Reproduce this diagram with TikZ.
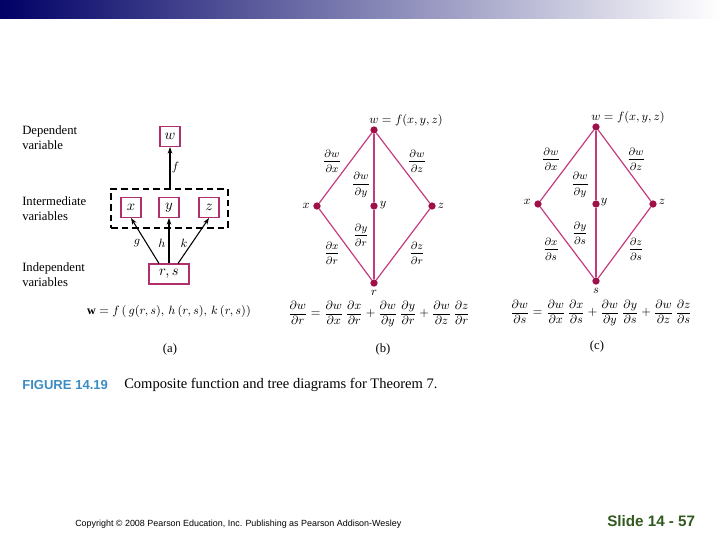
\documentclass[tikz,border=0pt]{standalone}
\usepackage{fontspec}
\setmainfont{Liberation Serif}
\setsansfont{Liberation Sans}
\usetikzlibrary{arrows.meta,calc}
\definecolor{navy}{RGB}{0,0,102}
\definecolor{midgrey}{RGB}{170,170,188}
\definecolor{boxpink}{RGB}{176,48,110}
\definecolor{linepink}{RGB}{196,60,128}
\definecolor{dotred}{RGB}{160,16,72}
\definecolor{figblue}{RGB}{60,140,196}
\definecolor{slidegreen}{RGB}{50,90,30}
\tikzset{
  vbox/.style={draw=boxpink, line width=0.8pt, fill=white, minimum width=15pt, minimum height=15pt, inner sep=0pt, font=\fontsize{10.5}{11}\selectfont},
  sidetext/.style={anchor=west, align=left, inner sep=0pt, font=\fontsize{9.5}{11.25}\selectfont},
  arr/.style={-{Stealth[length=5pt,width=3.5pt]}, line width=0.8pt},
  dotnode/.style={circle, fill=dotred, minimum size=5.5pt, inner sep=0pt},
  tree/.style={draw=linepink, line width=0.9pt},
  frl/.style={inner sep=0pt, font=\fontsize{8}{9}\selectfont},
  vlab/.style={inner sep=0pt, font=\fontsize{9.5}{11}\selectfont},
  eqn/.style={inner sep=0pt, font=\fontsize{9}{11}\selectfont},
}
\newcommand{\pd}[2]{\displaystyle\frac{\partial #1}{\partial #2}}
\begin{document}
\begin{tikzpicture}[x=0.75pt,y=-0.75pt]
\useasboundingbox (0,0) rectangle (720,540);
% top bar
\shade[left color=navy, middle color=midgrey, right color=white] (0,0) rectangle (720,18);

% ---------- panel (a)
\node[sidetext] (dep) at (22,137.5) {Dependent\\variable};
\node[sidetext] (int) at (22,209) {Intermediate\\variables};
\node[sidetext] (ind) at (22,275) {Independent\\variables};

\node[draw, dash pattern=on 5pt off 3pt, line width=0.8pt, minimum width=87.75pt, minimum height=29.25pt, inner sep=0pt] (inter) at (169.5,208.5) {};
\node[vbox] (wb) at (170,136.5) {$w$};
\node[vbox] (xb) at (131,207.5) {$x$};
\node[vbox] (yb) at (169,207.5) {$y$};
\node[vbox] (zb) at (209,207.5) {$z$};
\node[vbox, minimum width=30pt] (rs) at (169,274) {$r, s$};

\draw[arr] (inter.north -| wb) -- (wb.south) node[midway, right=1pt, vlab] (flab) {$f$};
\coordinate (rsx) at ($(rs.north)+(-10,0)$);
\coordinate (rsz) at ($(rs.north)+(9,0)$);
\draw[arr] (rsx) -- (xb.south);
\draw[arr] (rs.north) -- (yb.south);
\draw[arr] (rsz) -- (zb.south);
\node[vlab] (glab) at (137,243) {$g$};
\node[vlab] (hlab) at (162,243) {$h$};
\node[vlab] (klab) at (184,243) {$k$};

\node[eqn] (eqa) at (169,311) {$\mathbf{w} = f\,(\,g(r, s),\, h\,(r, s),\, k\,(r, s))$};
\node[vlab] (capa) at (170,349) {(a)};

% ---------- panel (b)
\node[dotnode] (bw) at (374,130) {};
\node[dotnode] (bx) at (317,206) {};
\node[dotnode] (by) at (374,206) {};
\node[dotnode] (bz) at (432,206) {};
\node[dotnode] (br) at (374,283) {};
\draw[tree] (bw) -- (bx) -- (br) -- (bz) -- (bw);
\draw[tree, line width=1.6pt] (bw) -- (by) -- (br);
\node[vlab] (bwl) at (406,120) {$w = f(x, y, z)$};
\node[vlab] (bxl) at (306,206) {$x$};
\node[vlab] (byl) at (383,205) {$y$};
\node[vlab] (bzl) at (441,206) {$z$};
\node[vlab] (brl) at (374,293) {$r$};
\node[frl] (b1) at (332,161) {$\pd{w}{x}$};
\node[frl] (b2) at (361,185) {$\pd{w}{y}$};
\node[frl] (b3) at (417,161) {$\pd{w}{z}$};
\node[frl] (b4) at (361,235) {$\pd{y}{r}$};
\node[frl] (b5) at (332,253) {$\pd{x}{r}$};
\node[frl] (b6) at (417,253) {$\pd{z}{r}$};
\node[eqn] (eqb) at (379,314) {$\pd{w}{r} = \pd{w}{x}\,\pd{x}{r} + \pd{w}{y}\,\pd{y}{r} + \pd{w}{z}\,\pd{z}{r}$};
\node[vlab] (capb) at (383,349) {(b)};

% ---------- panel (c)
\node[dotnode] (cw) at (596,127) {};
\node[dotnode] (cx) at (538,204) {};
\node[dotnode] (cy) at (596,204) {};
\node[dotnode] (cz) at (653,204) {};
\node[dotnode] (cs) at (596,281) {};
\draw[tree] (cw) -- (cx) -- (cs) -- (cz) -- (cw);
\draw[tree] (cw) -- (cy) -- (cs);
\node[vlab] (cwl) at (628,117) {$w = f(x, y, z)$};
\node[vlab] (cxl) at (527,202) {$x$};
\node[vlab] (cyl) at (604,202) {$y$};
\node[vlab] (czl) at (662,202) {$z$};
\node[vlab] (csl) at (596,291) {$s$};
\node[frl] (c1) at (551,159) {$\pd{w}{x}$};
\node[frl] (c2) at (580,185) {$\pd{w}{y}$};
\node[frl] (c3) at (636,159) {$\pd{w}{z}$};
\node[frl] (c4) at (580,233) {$\pd{y}{s}$};
\node[frl] (c5) at (551,249) {$\pd{x}{s}$};
\node[frl] (c6) at (636,249) {$\pd{z}{s}$};
\node[eqn] (eqc) at (601,313) {$\pd{w}{s} = \pd{w}{x}\,\pd{x}{s} + \pd{w}{y}\,\pd{y}{s} + \pd{w}{z}\,\pd{z}{s}$};
\node[vlab] (capc) at (597,346) {(c)};

% ---------- caption and footer
\node[anchor=west, inner sep=0pt, text=figblue, font=\sffamily\bfseries\fontsize{9.8}{11}\selectfont] (fig) at (22,385) {FIGURE 14.19};
\node[anchor=west, inner sep=0pt, font=\fontsize{10.9}{12}\selectfont] (cap) at (124,385) {Composite function and tree diagrams for Theorem 7.};
\node[anchor=west, inner sep=0pt, font=\sffamily\fontsize{6.7}{7}\selectfont] (copy) at (75,524) {Copyright © 2008 Pearson Education, Inc. Publishing as Pearson Addison-Wesley};
\node[anchor=west, inner sep=0pt, text=slidegreen, font=\sffamily\bfseries\fontsize{11.4}{13}\selectfont] (slide) at (607,521) {Slide 14 - 57};
\end{tikzpicture}
\end{document}
